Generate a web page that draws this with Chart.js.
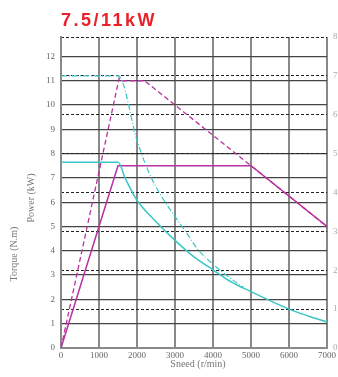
<!DOCTYPE html>
<html>
<head>
<meta charset="utf-8">
<script src="https://cdn.jsdelivr.net/npm/chart.js@4/dist/chart.umd.min.js"></script>
<style>
  html, body { margin: 0; padding: 0; background: #fff; overflow: hidden; }
  #wrap { position: relative; width: 338px; height: 377px; }
  #chart { position: absolute; left: 0; top: 0; }
  #title {
    position: absolute; left: 61px; top: 11px;
    font: bold 18px "Liberation Sans", Arial, sans-serif;
    line-height: 18px; letter-spacing: 2.5px; color: #e8202a;
  }
</style>
</head>
<body>
<div id="wrap">
  <canvas id="chart" width="338" height="377"></canvas>
  <div id="title">7.5/11kW</div>
</div>
<script>
// rated power (solid magenta)
const powerSpeed = [0, 1500, 5000, 7000];
const powerValues = [0, 7.5, 7.5, 5.0];

// peak power (dashed magenta)
const peakPowerSpeed = [0, 1530, 1570, 2200, 5000, 7000];
const peakPowerValues = [0, 11.1, 11.0, 11.0, 7.5, 5.0];

// rated torque (solid cyan)
const torqueSpeed = [0, 1500, 1700, 2000, 2500, 3000, 3500, 4000, 4500, 5000, 5500, 6000, 6500, 7000];
const torqueValues = [7.64, 7.64, 6.95, 6.08, 5.2, 4.43, 3.75, 3.22, 2.7, 2.32, 1.95, 1.6, 1.32, 1.07];

// peak torque (dash-dot cyan)
const peakTorqueSpeed = [0, 1508, 2000, 2200, 2400, 2700, 3000, 3300, 3600, 4000, 4500, 4800];
const peakTorqueValues = [11.2, 11.2, 8.55, 7.65, 6.93, 6.1, 5.41, 4.75, 4.06, 3.45, 2.82, 2.5];

const speedTicks = [0, 1000, 2000, 3000, 4000, 5000, 6000, 7000];

const magenta = '#b8309e';
const cyan = '#3ac6c6';
const tickFont = { family: '"Liberation Serif", serif', size: 9 };

function toPoints(xs, ys) {
  return xs.map((x, i) => ({ x: x, y: ys[i] }));
}

const axisTitles = {
  id: 'axisTitles',
  afterDraw(chart) {
    const ctx = chart.ctx;
    const area = chart.chartArea;
    ctx.save();
    ctx.font = '10px "Liberation Serif", serif';
    ctx.fillStyle = '#777';
    ctx.textAlign = 'center';
    ctx.textBaseline = 'middle';
    ctx.fillText('Sneed (r/min)', (area.left + area.right) / 2 + 4, area.bottom + 16);

    ctx.translate(14, 254);
    ctx.rotate(-Math.PI / 2);
    ctx.fillText('Torque (N.m)', 0, 0);
    ctx.restore();

    ctx.save();
    ctx.font = '10px "Liberation Serif", serif';
    ctx.fillStyle = '#777';
    ctx.textAlign = 'center';
    ctx.textBaseline = 'middle';
    ctx.translate(31, 198);
    ctx.rotate(-Math.PI / 2);
    ctx.fillText('Power (kW)', 0, 0);
    ctx.restore();
  }
};

const ctx = document.getElementById('chart').getContext('2d');
new Chart(ctx, {
  type: 'line',
  data: {
    datasets: [
      {
        data: toPoints(torqueSpeed, torqueValues),
        borderColor: cyan, borderWidth: 1.5,
        cubicInterpolationMode: 'monotone',
        pointRadius: 0, fill: false
      },
      {
        data: toPoints(peakTorqueSpeed, peakTorqueValues),
        borderColor: cyan, borderWidth: 1.2,
        borderDash: [6, 2, 1, 2],
        cubicInterpolationMode: 'monotone',
        pointRadius: 0, fill: false
      },
      {
        data: toPoints(powerSpeed, powerValues),
        borderColor: magenta, borderWidth: 1.5,
        pointRadius: 0, fill: false
      },
      {
        data: toPoints(peakPowerSpeed, peakPowerValues),
        borderColor: magenta, borderWidth: 1.3,
        borderDash: [5, 3],
        pointRadius: 0, fill: false
      }
    ]
  },
  options: {
    responsive: false,
    animation: false,
    layout: { padding: { top: 37, left: 0, right: 0, bottom: 0 } },
    plugins: {
      legend: { display: false },
      tooltip: { enabled: false }
    },
    scales: {
      x: {
        type: 'linear',
        min: 0, max: 7000,
        afterBuildTicks: (scale) => { scale.ticks = speedTicks.map(v => ({ value: v })); },
        afterFit: (scale) => { scale.height = 29; },
        ticks: {
          font: tickFont, color: '#666', padding: 2, maxRotation: 0,
          callback: (value) => String(value)
        },
        grid: { color: '#888', lineWidth: 2, drawTicks: false },
        border: { color: '#888', width: 2 }
      },
      y: {
        position: 'left',
        min: 0, max: 12.8,
        afterBuildTicks: (scale) => { scale.ticks = scale.ticks.filter(t => t.value <= 12); },
        afterFit: (scale) => { scale.width = 61; },
        ticks: { stepSize: 1, font: tickFont, color: '#666', padding: 6 },
        grid: { color: '#444', lineWidth: 1.3, drawTicks: false },
        border: { color: '#888', width: 2 }
      },
      y1: {
        position: 'right',
        min: 0, max: 8,
        afterFit: (scale) => { scale.width = 11; },
        ticks: { stepSize: 1, font: tickFont, color: '#aaa', padding: 6 },
        grid: { color: '#222', lineWidth: 1, drawTicks: false, drawOnChartArea: true },
        border: { display: false, dash: [3, 2] }
      }
    }
  },
  plugins: [axisTitles]
});
</script>
</body>
</html>
